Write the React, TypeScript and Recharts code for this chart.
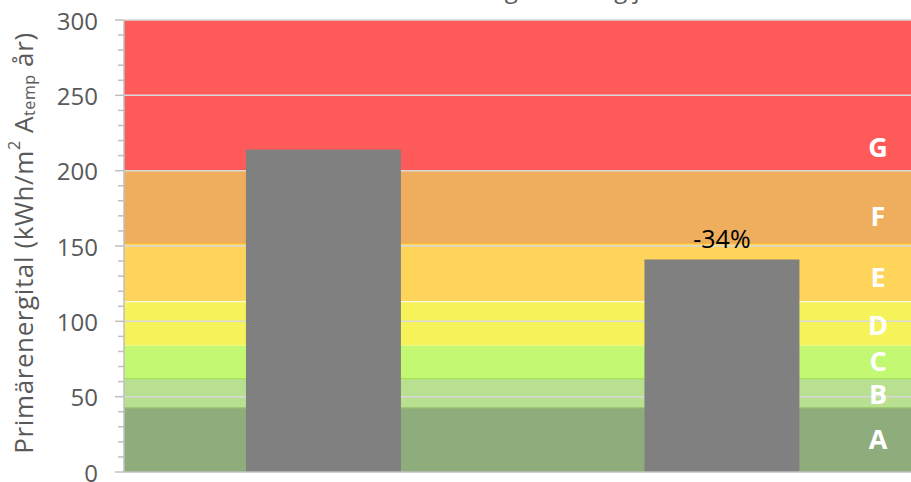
import {
  ComposedChart,
  Bar,
  XAxis,
  YAxis,
  CartesianGrid,
  ReferenceArea,
  ReferenceLine,
  LabelList,
} from "recharts";

const categories = ["Före", "Efter"];
const primaryEnergy = [214, 141];
const changeLabels = ["", "-34%"];

const classNames = ["A", "B", "C", "D", "E", "F", "G"];
const classFrom = [0, 42.5, 62, 84, 113, 152, 200];
const classTo = [42.5, 62, 84, 113, 152, 200, 300];
const classColors = ["#8fad7c", "#b9df91", "#c3f873", "#f6f35a", "#ffd45a", "#eeae5e", "#ff5a5a"];
const classLabelAt = [22, 52, 74, 98, 130, 170, 216];

const edgeValues = [42.5, 62, 113, 152];
const edgeColors = ["#93c267", "#a5e35a", "#ffffff", "#f2a43c"];

const yTicks = [0, 10, 20, 30, 40, 50, 60, 70, 80, 90, 100, 110, 120, 130, 140, 150, 160, 170, 180, 190, 200, 210, 220, 230, 240, 250, 260, 270, 280, 290, 300];
const gridValues = [50, 100, 150, 200, 250, 300];

const FONT = "'Open Sans', sans-serif";
const GREY = "#595959";

const data = categories.map((name, i) => ({
  name,
  value: primaryEnergy[i],
  change: changeLabels[i],
}));

function YTick(props: any) {
  const { x, y, payload } = props;
  const major = payload.value % 50 === 0;
  return (
    <g>
      <line x1={x - (major ? 9 : 6)} x2={x} y1={y} y2={y} stroke="#bfbfbf" strokeWidth={1.5} />
      {major && (
        <text x={x - 26} y={y} textAnchor="end" dominantBaseline="central" fill={GREY} fontSize={24} fontFamily={FONT}>
          {payload.value}
        </text>
      )}
    </g>
  );
}

function YLabel(props: any) {
  const vb = props.viewBox || {};
  const cx = 23;
  const cy = vb.y + vb.height / 2 - 3;
  return (
    <text
      x={cx}
      y={cy}
      transform={`rotate(-90 ${cx} ${cy})`}
      textAnchor="middle"
      dominantBaseline="central"
      fill={GREY}
      fontSize={26}
      letterSpacing={0.6}
      fontFamily={FONT}
    >
      Primärenergital (kWh/m
      <tspan fontSize={16} dy={-9}>2</tspan>
      <tspan dy={9}> A</tspan>
      <tspan fontSize={16} dy={6}>temp</tspan>
      <tspan dy={-6}> år)</tspan>
    </text>
  );
}

function ClassLabel(letter: string) {
  return (props: any) => {
    const vb = props.viewBox || {};
    return (
      <text
        x={vb.x + vb.width - 43}
        y={vb.y}
        textAnchor="middle"
        dominantBaseline="central"
        fill="#ffffff"
        fontWeight="bold"
        fontSize={27}
        fontFamily={FONT}
      >
        {letter}
      </text>
    );
  };
}

export default function App() {
  return (
    <div style={{ position: "fixed", left: 0, top: 0, width: 911, height: 482, overflow: "hidden", background: "#fff" }}>
      <div
        style={{
          position: "absolute",
          top: -28,
          left: 380,
          width: 520,
          textAlign: "center",
          fontFamily: FONT,
          fontSize: 24,
          color: GREY,
          whiteSpace: "nowrap",
        }}
      >
        Energiklassning jämfört med krav
      </div>
      <ComposedChart
        width={930}
        height={482}
        data={data}
        margin={{ top: 20, right: 9, bottom: 8, left: 0 }}
        barCategoryGap="30.6%"
      >
        {classNames.map((c, i) => (
          <ReferenceArea
            key={c}
            y1={classFrom[i]}
            y2={classTo[i]}
            fill={classColors[i]}
            fillOpacity={1}
            stroke="none"
          />
        ))}
        {edgeValues.map((v, i) => (
          <ReferenceArea key={"e" + i} y1={v - 0.4} y2={v + 0.4} fill={edgeColors[i]} fillOpacity={1} stroke="none" />
        ))}
        <CartesianGrid
          vertical={false}
          horizontalValues={gridValues}
          stroke="#d9d9d9"
          strokeWidth={1.5}
          zIndex={150}
        />
        <XAxis dataKey="name" tick={false} tickLine={false} height={2} axisLine={{ stroke: "#bfbfbf", strokeWidth: 1.5 }} />
        <YAxis
          domain={[0, 300]}
          ticks={yTicks}
          interval={0}
          width={124}
          tickSize={0}
          tickMargin={0}
          tick={<YTick />}
          axisLine={{ stroke: "#bfbfbf", strokeWidth: 1.5 }}
          tickLine={false}
          label={<YLabel />}
        />
        <Bar dataKey="value" fill="#808080" isAnimationActive={false}>
          <LabelList dataKey="change" position="top" offset={12} fill="#000" fontSize={25} fontFamily={FONT} />
        </Bar>
        {classNames.map((c, i) => (
          <ReferenceLine key={"l" + c} y={classLabelAt[i]} stroke="none" label={ClassLabel(c)} />
        ))}
      </ComposedChart>
    </div>
  );
}
